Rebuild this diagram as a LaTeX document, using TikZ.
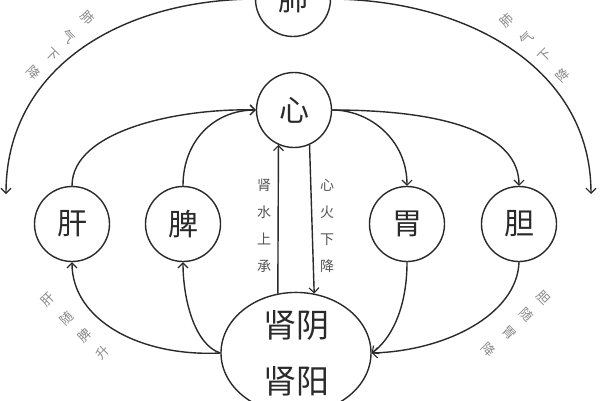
\documentclass[tikz,border=0pt]{standalone}
\usepackage{fontspec}
\setmainfont{Noto Sans CJK SC}
\usetikzlibrary{arrows.meta,shapes.geometric}
\definecolor{ink}{HTML}{2A2A2A}
\definecolor{soft}{HTML}{8A8A8A}
\tikzset{
  organ/.style={circle,draw=ink,line width=1.4pt,minimum size=75pt,inner sep=0pt,font=\fontsize{30}{30}\selectfont,text=ink},
  conn/.style={draw=ink,line width=1.4pt,-{Straight Barb[length=5pt,width=10pt,line width=1.1pt]}},
  vlbl/.style={align=center,font=\fontsize{14}{27}\selectfont,text=ink!80,inner sep=0pt},
  arclbl/.style={font=\fontsize{13}{13}\selectfont,text=soft,inner sep=0pt}
}
\begin{document}
\begin{tikzpicture}[x=1pt,y=-1pt]
\useasboundingbox[fill=white] (0,0) rectangle (600,400);
% organs
\node[organ] (fei) at (293,-1) {肺};
\node[organ] (xin) at (294,110) {心};
\node[organ] (gan) at (72,224) {肝};
\node[organ] (pi) at (183,224) {脾};
\node[organ] (wei) at (407,224) {胃};
\node[organ] (dan) at (519,224) {胆};
\node[ellipse,draw=ink,line width=1.4pt,minimum width=150pt,minimum height=110pt,inner sep=0pt,
      align=center,font=\fontsize{33}{56}\selectfont,text=ink] (shen) at (296,353) {肾阴\\肾阳};
% free ends
\coordinate (lend) at (6,194);
\coordinate (rend) at (591,194);
% lung arcs
\draw[conn] (fei.west) .. controls (118,0) and (6,70) .. (lend);
\draw[conn] (fei.east) .. controls (470,0) and (591,70) .. (rend);
% ascending to heart
\draw[conn] (gan.north) .. controls (72,130) and (180,108) .. (xin.west);
\draw[conn] (pi.north) .. controls (183,140) and (215,110) .. (xin.west);
% heart descending
\draw[conn] (xin.east) .. controls (370,110) and (407,140) .. (wei.north);
\draw[conn] (xin.east) .. controls (450,110) and (519,135) .. (dan.north);
% heart - kidney
\draw[conn] (shen.107.6) -- (xin.-114);
\draw[conn] (xin.-66) -- (shen.73.4);
% kidney to liver/spleen
\draw[conn] (shen.west) .. controls (140,357) and (72,320) .. (gan.south);
\draw[conn] (shen.west) .. controls (195,345) and (183,300) .. (pi.south);
% stomach/gallbladder to kidney
\draw[conn] (wei.south) .. controls (407,310) and (390,340) .. (shen.east);
\draw[conn] (dan.south) .. controls (517,315) and (445,351) .. (shen.east);
% vertical labels
\node[vlbl] (lshui) at (264,226) {肾\\水\\上\\承};
\node[vlbl] (lhuo) at (327,226) {心\\火\\下\\降};
% arc labels
\node[arclbl,rotate=-45] (a1) at (88,18) {肺};
\node[arclbl,rotate=-45] (a2) at (69,37) {气};
\node[arclbl,rotate=-45] (a3) at (52,55) {下};
\node[arclbl,rotate=-45] (a4) at (34,73) {降};
\node[arclbl,rotate=45] (b1) at (507,20) {肺};
\node[arclbl,rotate=45] (b2) at (527,38) {气};
\node[arclbl,rotate=45] (b3) at (545,56) {下};
\node[arclbl,rotate=45] (b4) at (563,75) {降};
\node[arclbl,rotate=45] (c1) at (48,300) {肝};
\node[arclbl,rotate=45] (c2) at (67,318) {随};
\node[arclbl,rotate=45] (c3) at (85,335) {脾};
\node[arclbl,rotate=45] (c4) at (103,352) {升};
\node[arclbl,rotate=-45] (d1) at (543,298) {胆};
\node[arclbl,rotate=-45] (d2) at (527,315) {随};
\node[arclbl,rotate=-45] (d3) at (509,333) {胃};
\node[arclbl,rotate=-45] (d4) at (489,350) {降};
\end{tikzpicture}
\end{document}
